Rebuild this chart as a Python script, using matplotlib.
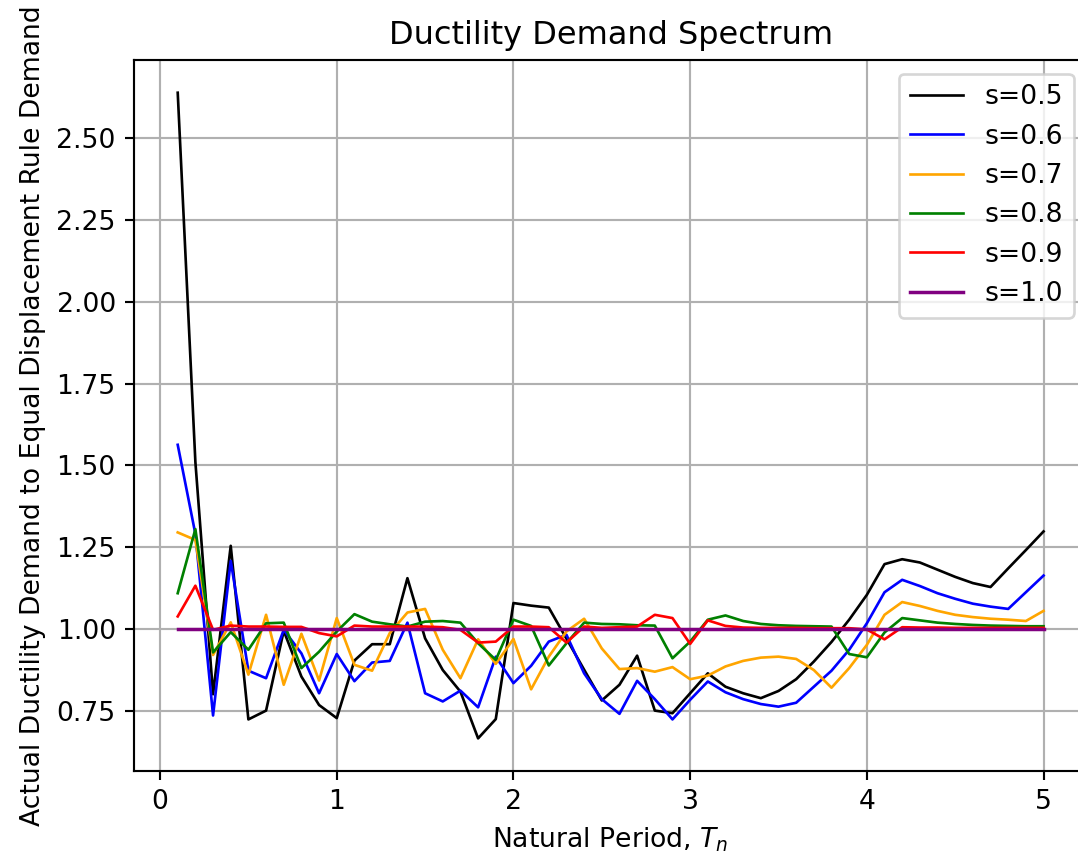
import matplotlib
matplotlib.use('Agg')
from matplotlib import pyplot as plt

# natural period T_n
periods = [0.1, 0.2, 0.3, 0.4, 0.5, 0.6, 0.7, 0.8, 0.9, 1.0,
           1.1, 1.2, 1.3, 1.4, 1.5, 1.6, 1.7, 1.8, 1.9, 2.0,
           2.1, 2.2, 2.3, 2.4, 2.5, 2.6, 2.7, 2.8, 2.9, 3.0,
           3.1, 3.2, 3.3, 3.4, 3.5, 3.6, 3.7, 3.8, 3.9, 4.0,
           4.1, 4.2, 4.3, 4.4, 4.5, 4.6, 4.7, 4.8, 4.9, 5.0]

s05 = [2.64, 1.51, 0.80, 1.254, 0.723, 0.75, 0.994, 0.854, 0.767, 0.727,
       0.903, 0.953, 0.953, 1.155, 0.971, 0.874, 0.808, 0.665, 0.724, 1.079,
       1.071, 1.065, 0.97, 0.875, 0.781, 0.829, 0.918, 0.75, 0.742, 0.803,
       0.864, 0.823, 0.803, 0.788, 0.81, 0.846, 0.90, 0.96, 1.028, 1.104,
       1.198, 1.213, 1.203, 1.181, 1.159, 1.14, 1.128, 1.185, 1.241, 1.298]
s06 = [1.563, 1.29, 0.735, 1.208, 0.872, 0.849, 0.997, 0.925, 0.803, 0.923,
       0.84, 0.897, 0.902, 1.019, 0.803, 0.778, 0.811, 0.76, 0.915, 0.834,
       0.887, 0.961, 0.982, 0.864, 0.785, 0.74, 0.841, 0.785, 0.723, 0.783,
       0.839, 0.806, 0.785, 0.77, 0.762, 0.774, 0.823, 0.872, 0.936, 1.017,
       1.112, 1.15, 1.131, 1.109, 1.092, 1.077, 1.068, 1.061, 1.112, 1.163]
s07 = [1.295, 1.272, 0.92, 1.02, 0.86, 1.043, 0.829, 0.985, 0.842, 1.033,
       0.89, 0.872, 0.987, 1.05, 1.061, 0.936, 0.849, 0.968, 0.893, 0.969,
       0.815, 0.915, 0.992, 1.031, 0.94, 0.877, 0.88, 0.869, 0.883, 0.846,
       0.857, 0.885, 0.902, 0.912, 0.915, 0.908, 0.874, 0.82, 0.88, 0.951,
       1.043, 1.082, 1.07, 1.055, 1.043, 1.036, 1.031, 1.028, 1.024, 1.055]
s08 = [1.109, 1.305, 0.928, 0.99, 0.936, 1.017, 1.019, 0.88, 0.93, 0.992,
       1.045, 1.022, 1.014, 1.007, 1.022, 1.024, 1.019, 0.956, 0.905, 1.028,
       1.009, 0.888, 0.956, 1.019, 1.015, 1.014, 1.011, 1.01, 0.91, 0.961,
       1.028, 1.041, 1.024, 1.015, 1.011, 1.009, 1.008, 1.007, 0.923, 0.913,
       0.989, 1.033, 1.026, 1.019, 1.015, 1.012, 1.01, 1.009, 1.008, 1.008]
s09 = [1.038, 1.132, 0.997, 1.01, 1.007, 1.007, 1.006, 1.006, 0.987, 0.977,
       1.01, 1.007, 1.007, 1.007, 1.007, 1.005, 0.997, 0.958, 0.961, 1.007,
       1.007, 1.005, 0.958, 1.007, 1.003, 1.005, 1.007, 1.043, 1.033, 0.954,
       1.026, 1.009, 1.004, 1.003, 1.003, 1.003, 1.002, 1.002, 1.002, 0.998,
       0.968, 1.005, 1.004, 1.004, 1.003, 1.003, 1.003, 1.003, 1.003, 1.003]
s10 = [1.0] * 50

series = [s05, s06, s07, s08, s09, s10]
labels = ['s=0.5', 's=0.6', 's=0.7', 's=0.8', 's=0.9', 's=1.0']
colors = ['black', 'blue', 'orange', 'green', 'red', 'purple']
widths = [1.0, 1.0, 1.0, 1.0, 1.0, 1.3]

fig = plt.figure(dpi=192, figsize=(1078/192, 856/192))
# axes run a little past the right edge of the image, like the reference
ax = fig.add_axes([0.1247, 0.0997, 1.0082 - 0.1247, 0.9294 - 0.0997])
for y, lab, c, w in zip(series, labels, colors, widths):
    ax.plot(periods, y, c=c, label=lab, lw=w)

ax.set_title('Ductility Demand Spectrum')
ax.set_xlabel('Natural Period, $T_n$')
ax.set_ylabel('Actual Ductility Demand to Equal Displacement Rule Demand')
ax.grid(True)
ax.legend(loc='upper right')
fig.savefig('out.png', dpi=192)
